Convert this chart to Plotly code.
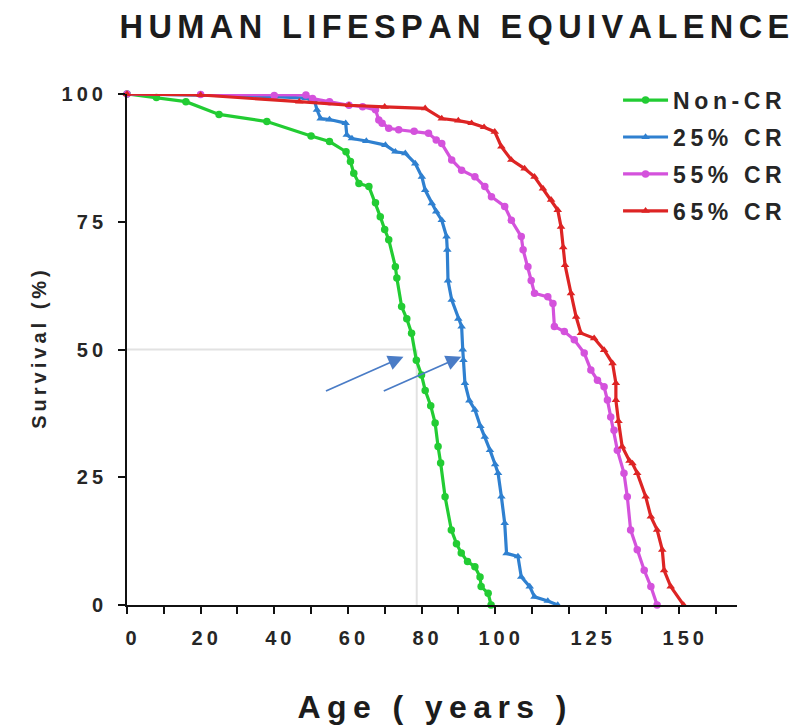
import numpy as np
import plotly.graph_objects as go

# Survival (%) versus human-equivalent age (years) for each diet group
noncr_age = [0, 8, 16, 25, 38, 50, 55, 59.5, 60.7, 61.6, 63, 65.7, 67.5, 68.8, 70, 71.1,
             72.9, 73.3, 74.6, 76, 77.3, 78.6, 80, 81, 82.5, 83.7, 84.5, 85.2, 86.4, 88.1,
             89.5, 90.8, 92.5, 94.5, 95.9, 96.2, 98.1, 98.9]
noncr_surv = [100, 99.3, 98.5, 96, 94.6, 91.8, 90.7, 88.7, 86.8, 84.5, 82.5, 81.9, 78.7, 76,
              73.5, 71.5, 66.2, 64, 58.4, 56, 53.2, 47.9, 45, 42, 39, 35.6, 31, 27.8, 21.2,
              14.7, 12, 10.2, 8.5, 7.5, 5.5, 3.6, 2.3, 0]

cr25_age = [0, 20, 40, 48.6, 51, 51.6, 52.6, 55, 59.4, 59.7, 61.1, 65, 70.2, 72.9, 75.6,
            78.3, 80.1, 81, 82.8, 84, 85.5, 86.8, 87, 87.2, 88.2, 90, 90.9, 91.2, 91.4,
            91.8, 93, 94.5, 96, 97.2, 98.6, 100, 100.8, 101.7, 102.6, 103.1, 106.2, 107.1,
            109.4, 110.7, 114.3, 117]
cr25_surv = [100, 99.8, 99.5, 99.2, 98.5, 96.9, 95.2, 95, 94.3, 92, 91.3, 90.8, 90, 88.7,
             88.4, 86.4, 83.8, 81.2, 78.6, 77, 75.3, 72.1, 69.5, 63.5, 59.7, 56, 54.5, 50,
             47.9, 43.4, 40, 38.2, 35, 32.9, 30.3, 27.5, 25.8, 21.2, 16, 10.1, 9.5, 5.5, 3.6,
             1.6, 0.8, 0]

cr55_age = [0, 20, 40, 48.6, 50.4, 55, 60.3, 64, 67.5, 68.4, 69.3, 71.1, 73.8, 78, 81.9,
            84, 85.5, 88.2, 90.9, 94.5, 97.2, 99, 102.6, 104.4, 107.1, 107.6, 108.9, 109.8,
            110.7, 114.3, 115.7, 116.1, 118.8, 121.5, 124.2, 126, 127.8, 129.6, 130.5,
            131.4, 132.3, 133.2, 135, 135.9, 136.8, 138.6, 140.5, 142.3, 144]
cr55_surv = [100, 99.9, 99.7, 99.8, 99.1, 98.5, 97.8, 97.5, 96.9, 94.9, 94.3, 93.3, 93, 92.7,
             92.3, 91, 90.3, 87.1, 85.1, 83.8, 81.9, 79.9, 78, 75.3, 72.1, 69.5, 66.2, 63.5,
             61, 60.3, 59, 54.5, 53.5, 51.9, 49.3, 46, 44, 42.7, 40.1, 36.8, 34.2, 30.3,
             25.8, 21.2, 14.7, 10.8, 6.8, 3.6, 0]

cr65_age = [0, 20, 46.8, 60.3, 70, 81, 85.5, 90, 93.6, 97, 99.9, 101.7, 104.4, 108, 110.7,
            113, 115.2, 117, 117.9, 118.5, 119, 120.6, 122, 123.3, 126.9, 129.6, 131.9,
            132.8, 132.8, 133.5, 134.5, 136.5, 137.3, 138.6, 140.9, 142.3, 144, 145.4,
            145.9, 147.7, 151.2]
cr65_surv = [100, 99.8, 98.5, 97.8, 97.5, 97.2, 95.2, 94.8, 94.3, 93.5, 92.6, 89.7, 87.1,
             85.4, 83.8, 81.5, 79.3, 77.3, 74, 70, 66.5, 61, 56.4, 53.2, 52.2, 49.9, 47.3,
             43.4, 40.1, 36, 31, 28.2, 27.7, 25.8, 21.2, 17.3, 14.7, 10.8, 6.8, 3.6, 0]

group_names = ["Non-CR", "25% CR", "55% CR", "65% CR"]
x_tick_vals = [0, 20, 40, 60, 80, 100, 125, 150]
y_tick_vals = [0, 25, 50, 75, 100]
median_noncr = 78.7

series = [
    (noncr_age, noncr_surv, "#22cc33", "circle"),
    (cr25_age, cr25_surv, "#2f80d0", "triangle-up"),
    (cr55_age, cr55_surv, "#d452dc", "circle"),
    (cr65_age, cr65_surv, "#dd2424", "triangle-up"),
]

FONT = "Liberation Sans"
INK = "#262626"


def spaced(text, sep="\u2005"):
    """Widen the tracking of a label by putting a narrow space between characters."""
    return sep.join(text)


fig = go.Figure()

for name, (ages, surv, color, symbol) in zip(group_names, series):
    fig.add_trace(go.Scatter(
        x=ages, y=surv, name=spaced(name, "\u2009"), mode="lines+markers",
        legendgroup=name,
        line=dict(color=color, width=3.2),
        marker=dict(color=color, size=7.5, symbol=symbol),
        cliponaxis=False,
    ))

# median guide lines for the Non-CR group
fig.add_shape(type="line", x0=0, x1=median_noncr, y0=50, y1=50,
              line=dict(color="#e2e2e2", width=2), layer="below")
fig.add_shape(type="line", x0=median_noncr, x1=median_noncr, y0=50, y1=0,
              line=dict(color="#e2e2e2", width=2), layer="below")

# arrows marking the 50% survival point of the first two groups
for tip_x in (75.1, 90.8):
    fig.add_annotation(x=tip_x, y=48.6, ax=-79, ay=35, xref="x", yref="y",
                       showarrow=True, arrowhead=2, arrowsize=1.7, arrowwidth=1.8,
                       arrowcolor="#4a7cc6", text="")

fig.update_layout(
    width=800, height=727,
    margin=dict(l=127, r=60, t=94, b=122),
    paper_bgcolor="white", plot_bgcolor="white",
    font=dict(family=FONT, color=INK, size=20, weight="bold"),
    title=dict(text=spaced("HUMAN LIFESPAN EQUIVALENCE", "\u2006"),
               x=0.568, xref="container", xanchor="center",
               y=0.963, yref="container", yanchor="middle",
               font=dict(family=FONT, size=32.5, color="#1c1c1c", weight="bold")),
    showlegend=True,
    legend=dict(x=0.805, y=1.03, xanchor="left", yanchor="top",
                font=dict(family=FONT, size=23, color=INK, weight="bold"),
                bgcolor="rgba(0,0,0,0)", itemwidth=45, tracegroupgap=4,
                traceorder="grouped"),
)

fig.update_xaxes(
    range=[0, 165.7], showgrid=False, zeroline=False, automargin=False,
    showline=True, linecolor="#111", linewidth=2,
    tickmode="array", tickvals=x_tick_vals,
    ticktext=[spaced(str(v), "\u2009") for v in x_tick_vals],
    ticks="outside", ticklen=0, ticklabelstandoff=14, ticklabelshift=4,
    minor=dict(tickmode="array", tickvals=list(range(0, 170, 10)),
               ticks="outside", ticklen=7, tickwidth=2, tickcolor="#111"),
    tickfont=dict(size=20, color=INK),
    title=dict(text=spaced("Age ( years )", "\u2009"), standoff=48,
               font=dict(size=32, color="#1c1c1c")),
)

fig.update_yaxes(
    range=[0, 100], showgrid=False, zeroline=False, automargin=False,
    showline=True, linecolor="#111", linewidth=2,
    tickmode="array", tickvals=y_tick_vals,
    ticktext=[spaced(str(v), "\u2009") for v in y_tick_vals],
    ticks="outside", ticklen=7, tickwidth=2, tickcolor="#111",
    ticklabelstandoff=11,
    tickfont=dict(size=20, color=INK),
    title=dict(text=spaced("Survival (%)", "\u2009"), standoff=10,
               font=dict(size=20, color=INK)),
)

fig.write_html("out.html")
